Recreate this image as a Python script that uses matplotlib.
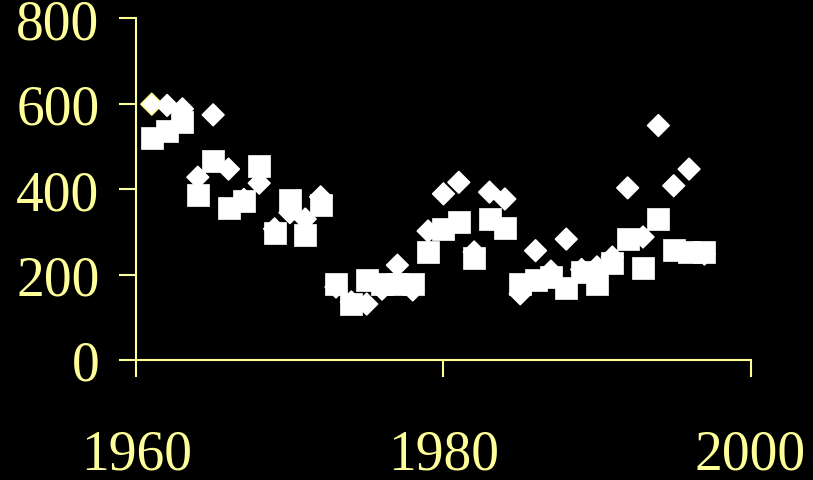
import matplotlib
matplotlib.use("Agg")
import matplotlib.pyplot as plt

# Years and the two series
years = list(range(1961, 1998))

diamonds = [599, 596, 588, 428, 574, 447, 376, 414, 307, 345,
            330, 382, 171, 136, 131, 166, 222, 164, 302, 389,
            416, 253, 393, 377, 155, 256, 208, 283, 212, 218,
            241, 403, 288, 549, 408, 447, 248]

squares = [520, 535, 557, 387, 465, 356, 373, 454, 297, 375,
           293, 362, 179, 130, 188, 178, 178, 178, 253, 306,
           324, 239, 329, 309, 178, 188, 194, 169, 207, 179,
           227, 284, 215, 329, 258, 252, 252]

x_ticks = [1960, 1980, 2000]
y_ticks = [0, 200, 400, 600, 800]

yellow = "#FFFF99"

fig = plt.figure(figsize=(8.13, 4.81), dpi=100, facecolor="black")
ax = fig.add_axes([136.4 / 813, (481 - 361) / 481,
                   (750.5 - 136.4) / 813, (361 - 19.3) / 481])
ax.set_facecolor("black")

# diamonds first, squares on top
edge = [yellow] + ["white"] * (len(years) - 1)
ax.scatter(years, diamonds, marker="D", s=11.0 ** 2, c="white",
           edgecolors=edge, linewidths=1.2, zorder=3, clip_on=False)
ax.scatter(years, squares, marker="s", s=16.5 ** 2, c="white",
           edgecolors="white", linewidths=0.5, zorder=4, clip_on=False)

ax.set_xlim(1960, 2000)
ax.set_ylim(0, 800)
ax.set_xticks(x_ticks)
ax.set_yticks(y_ticks)

for side in ["top", "right"]:
    ax.spines[side].set_visible(False)
for side in ["left", "bottom"]:
    ax.spines[side].set_color(yellow)
    ax.spines[side].set_linewidth(1.5)

ax.tick_params(axis="both", direction="out", length=12.5, width=1.5,
               color=yellow, labelcolor=yellow)
ax.tick_params(axis="y", pad=14)
ax.tick_params(axis="x", pad=37)

for lab in ax.get_xticklabels() + ax.get_yticklabels():
    lab.set_family("Liberation Serif")
    lab.set_fontsize(40)

fig.savefig("out.png", dpi=100, facecolor="black")
